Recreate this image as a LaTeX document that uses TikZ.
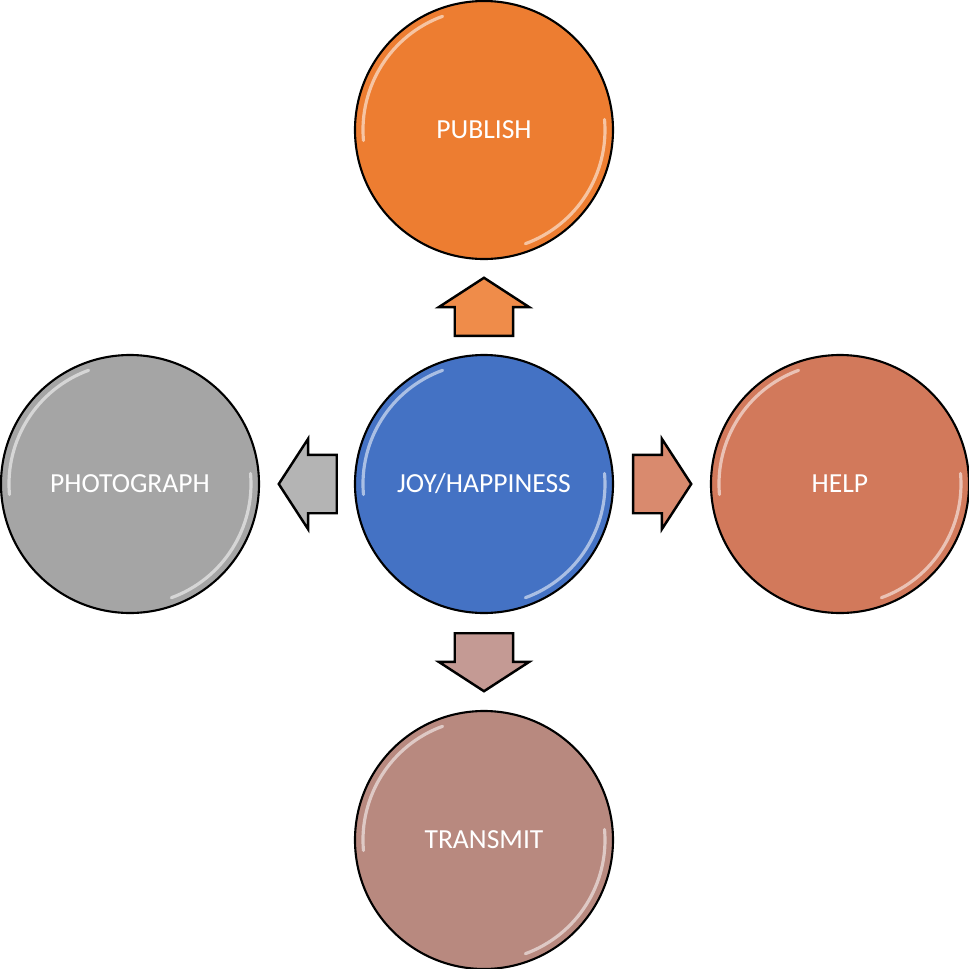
\documentclass[tikz,border=0pt]{standalone}
\usepackage{fontspec}
\setmainfont{Carlito}
\usetikzlibrary{shapes.arrows}
\definecolor{pubOrange}{HTML}{ED7D31}
\definecolor{joyBlue}{HTML}{4472C4}
\definecolor{photoGray}{HTML}{A5A5A5}
\definecolor{helpSalmon}{HTML}{D2795B}
\definecolor{transRose}{HTML}{B8897F}
\definecolor{upArrow}{HTML}{EF8C4A}
\definecolor{rightArrow}{HTML}{D98A6E}
\definecolor{downArrow}{HTML}{C49A94}
\definecolor{leftArrow}{HTML}{B4B4B4}
\tikzset{
    bubble/.style={circle, draw=black, line width=0.6pt, minimum size=2.58cm, inner sep=0pt,
        text=white, font=\fontsize{7.85}{9}\selectfont},
    gloss/.style={white, line width=0.9pt, opacity=0.55, line cap=round},
    blockarrow/.style={single arrow, draw=black, line width=0.7pt, anchor=tail,
        minimum height=0.58cm, minimum width=0.9cm, single arrow head extend=0.16cm,
        single arrow tip angle=114},
    flatarrow/.style={blockarrow, inner xsep=0pt, inner ysep=0.28cm},
    tallarrow/.style={blockarrow, inner xsep=0.28cm, inner ysep=0pt}
}
\begin{document}
\begin{tikzpicture}
    \useasboundingbox (-4.84,-4.85) rectangle (4.85,4.84);
    \begin{scope}
        \node[bubble, fill=joyBlue] (joy) at (0,0) {JOY/HAPPINESS};
        \node[bubble, fill=pubOrange] (publish) at (0,3.54) {PUBLISH};
        \node[bubble, fill=helpSalmon] (help) at (3.56,0) {HELP};
        \node[bubble, fill=transRose] (transmit) at (0,-3.56) {TRANSMIT};
        \node[bubble, fill=photoGray] (photo) at (-3.54,0) {PHOTOGRAPH};
    \end{scope}
    % glossy rims
    \foreach \n in {joy,publish,help,transmit,photo} {
        \draw[gloss] ([shift={(110:1.21)}]\n.center) arc[start angle=110, end angle=185, radius=1.21];
        \draw[gloss] ([shift={(-70:1.21)}]\n.center) arc[start angle=-70, end angle=5, radius=1.21];
    }
    \node[tallarrow, fill=upArrow, shape border rotate=90] (toPublish) at (0,1.47) {};
    \node[flatarrow, fill=rightArrow, shape border rotate=0] (toHelp) at (1.48,0) {};
    \node[tallarrow, fill=downArrow, shape border rotate=270] (toTransmit) at (0,-1.48) {};
    \node[flatarrow, fill=leftArrow, shape border rotate=180] (toPhoto) at (-1.46,0) {};
\end{tikzpicture}
\end{document}
